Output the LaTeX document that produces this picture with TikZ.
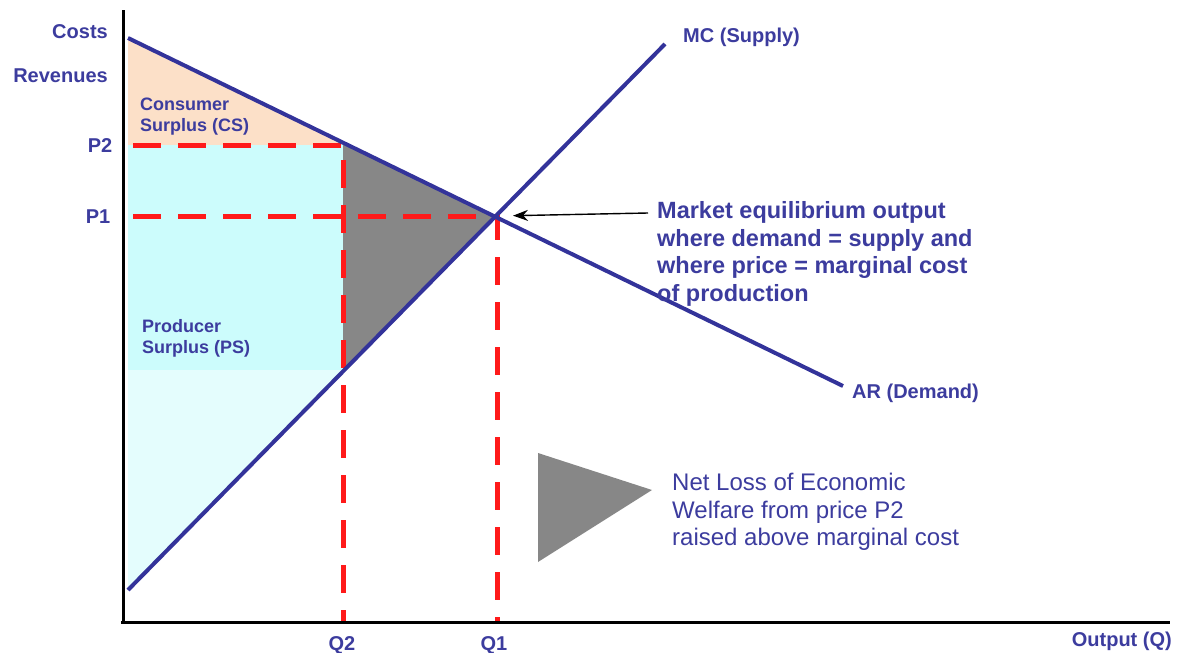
\documentclass[tikz,border=0pt]{standalone}
\usepackage{fontspec}
\setmainfont{Liberation Sans}
\usetikzlibrary{arrows.meta}
\definecolor{Navy}{HTML}{33339A}
\definecolor{LabelInk}{HTML}{3C3C9E}
\definecolor{Peach}{HTML}{FCE0C8}
\definecolor{Aqua}{HTML}{CCFCFC}
\definecolor{PaleAqua}{HTML}{E4FDFD}
\definecolor{Loss}{HTML}{878787}
\definecolor{DashRed}{HTML}{FF1A1A}

\begin{document}
\begin{tikzpicture}[x=1pt,y=-1pt,every node/.style={text=LabelInk,inner sep=0pt},lbl/.style={font=\bfseries\fontsize{20}{22}\selectfont},small/.style={font=\bfseries\fontsize{18}{21}\selectfont,align=left},curve/.style={line width=4pt,draw=Navy},axis/.style={line width=3pt,draw=black},guide/.style={line width=5pt,draw=DashRed,dash pattern=on 28pt off 17pt}]
\useasboundingbox (0,0) rectangle (1186,653);

\coordinate (D0) at (128,38); \coordinate (D1) at (843,386); \coordinate (S0) at (128,590); \coordinate (S1) at (665,44);
\coordinate (E) at (497,216); \coordinate (A) at (343,142); \coordinate (B) at (343,372);

% surplus areas
\fill[Peach] (D0) -- (A) -- (343,145) -- (128,145) -- cycle;
\fill[Aqua] (128,145) rectangle (343,370);
\fill[PaleAqua] (128,370) -- (345,370) -- (S0) -- cycle;
\fill[Loss] (A) -- (E) -- (B) -- cycle;

% price and output guides
\draw[guide] (133,145) -| (343,622);
\draw[guide] (133,216) -| (497,622);

\draw[axis] (123,10) -- (123,624);
\draw[axis] (121,622) -- (1170,622);
\draw[curve] (D0) -- (D1);
\draw[curve] (S0) -- (S1);

\node[lbl,anchor=east] (costs) at (108,32) {Costs};
\node[lbl,anchor=east] (rev) at (108,76) {Revenues};
\node[lbl] (p2) at (100,146) {P2};
\node[lbl] (p1) at (98,217) {P1};
\node[lbl] (q2) at (342,645) {Q2};
\node[lbl] (q1) at (494,645) {Q1};
\node[lbl,anchor=east] (out) at (1172,641) {Output (Q)};
\node[lbl,anchor=west] (mc) at (683,37) {MC (Supply)};
\node[lbl,anchor=west] (ar) at (852,393) {AR (Demand)};
\node[small,anchor=west] (cs) at (140,117) {Consumer\\Surplus (CS)};
\node[small,anchor=west] (ps) at (142,338) {Producer\\Surplus (PS)};

\node[font=\bfseries\fontsize{23.5}{27.5}\selectfont,align=left,anchor=west] (mkt) at (657,254) {Market equilibrium output\\where demand = supply and\\where price = marginal cost\\of production};
\coordinate (tail) at (648,213);
\draw[-{Stealth[length=15pt,width=11pt]},line width=1.4pt,black,shorten >=16pt] (tail) -- (E);

% legend for the welfare loss
\fill[Loss] (538,453) -- (652,490) -- (538,562) -- cycle;
\node[font=\fontsize{24}{27.5}\selectfont,align=left,anchor=west] (loss) at (672,512) {Net Loss of Economic\\Welfare from price P2\\raised above marginal cost};

\end{tikzpicture}
\end{document}
